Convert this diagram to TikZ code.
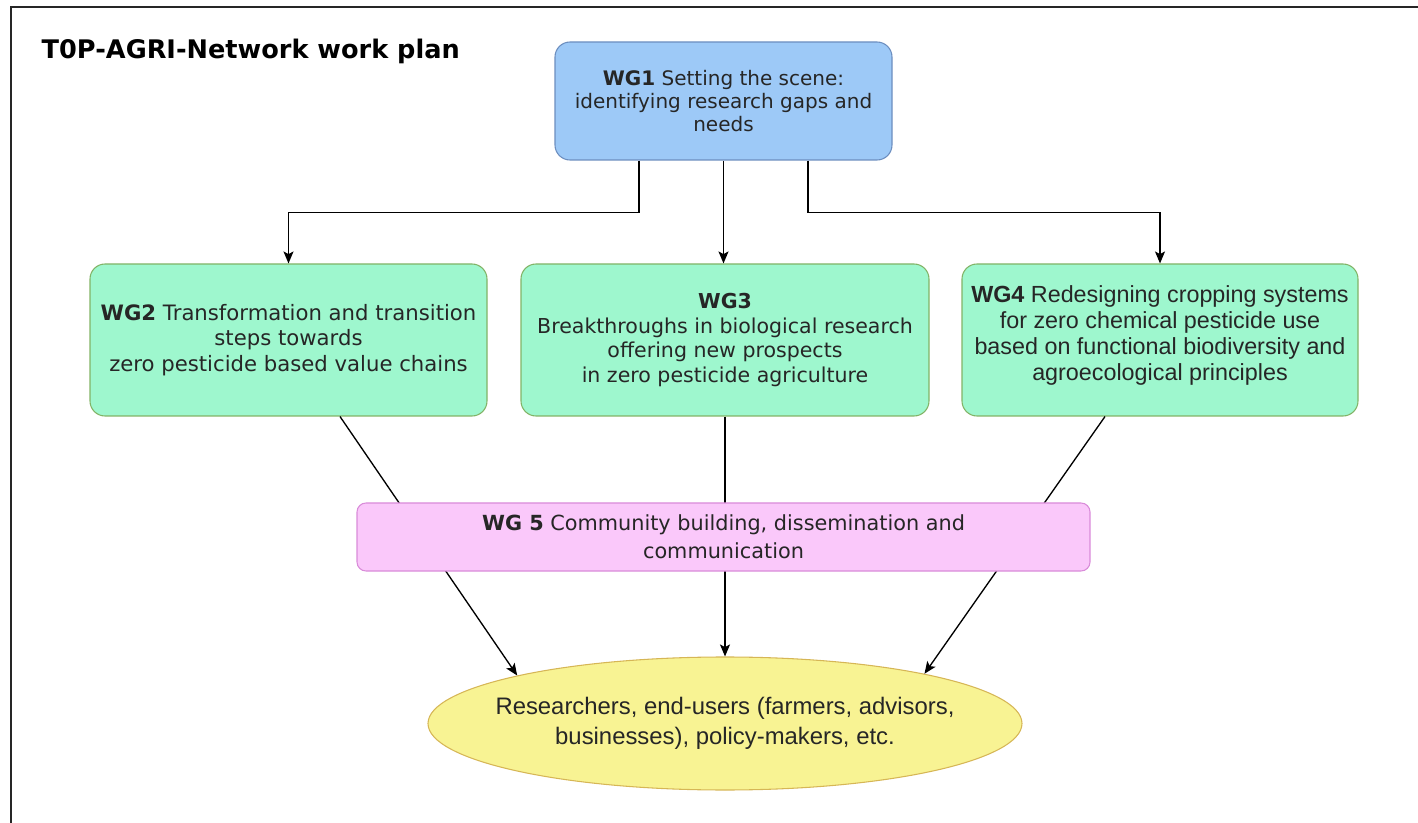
\documentclass[tikz,border=0pt]{standalone}
\usepackage{fontspec}
\setmainfont{DejaVu Sans}
\newfontfamily\arialfont{Liberation Sans}
\usetikzlibrary{arrows.meta,shapes.geometric}
\newdimen\pxu \pxu=0.75pt
\definecolor{wgblue}{HTML}{9DC9F7}
\definecolor{wgblueline}{HTML}{6C8EBF}
\definecolor{wggreen}{HTML}{9EF7CE}
\definecolor{wggreenline}{HTML}{82B366}
\definecolor{wgpink}{HTML}{FAC8FA}
\definecolor{wgpinkline}{HTML}{D98CD9}
\definecolor{wgyellow}{HTML}{F8F393}
\definecolor{wgyellowline}{HTML}{D6B656}
\tikzset{
  wgbox/.style={draw, rounded corners=15\pxu, align=center, text=black!85,
    line width=0.8pt, inner sep=0pt},
  bluebox/.style={wgbox, fill=wgblue, draw=wgblueline},
  greenbox/.style={wgbox, fill=wggreen, draw=wggreenline, minimum height=152\pxu},
  pinkbox/.style={wgbox, fill=wgpink, draw=wgpinkline, rounded corners=9\pxu},
  conn/.style={line width=1pt, -{Stealth[length=9pt,width=7.5pt,inset=2pt]}}
}

\begin{document}
\begin{tikzpicture}[x=0.75pt, y=-0.75pt]
  \useasboundingbox (0,0) rectangle (1418,823);
  % frame
  \draw[line width=1.9pt, black!85] (11,830) -- (11,7) -- (1425,7);
  \node[anchor=west, font=\bfseries\fontsize{19.2}{22}\selectfont] (title) at (37,51)
    {T0P-AGRI-Network work plan};

  \node[bluebox, minimum width=337\pxu, minimum height=118\pxu,
    font=\fontsize{15}{17.25}\selectfont] (wg1) at (723.5,101)
    {\textbf{WG1} Setting the scene:\\identifying research gaps and\\needs};

  \node[greenbox, minimum width=397\pxu, font=\fontsize{15.9}{19.3}\selectfont] (wg2) at (288.5,340)
    {\textbf{WG2} Transformation and transition\\steps towards\\zero pesticide based value chains};
  \node[greenbox, minimum width=408\pxu, font=\fontsize{15.4}{18.5}\selectfont] (wg3) at (725,340)
    {\textbf{WG3}\\Breakthroughs in biological research\\offering new prospects\\in zero pesticide agriculture};
  \node[greenbox, minimum width=396\pxu, font=\arialfont\fontsize{17.5}{19.5}\selectfont] (wg4) at (1160,340)
    {\textbf{WG4} Redesigning cropping systems\\for zero chemical pesticide use\\based on functional biodiversity and\\agroecological principles\\[-9pt]};

  \node[ellipse, draw=wgyellowline, fill=wgyellow, line width=0.8pt, inner sep=0pt,
    inner xsep=-60\pxu, minimum width=594\pxu, minimum height=133\pxu, align=center,
    text=black!85, font=\arialfont\fontsize{17.9}{22.5}\selectfont] (users) at (725,723.5)
    {Researchers, end-users (farmers, advisors,\\businesses), policy-makers, etc.};

  % work plan links
  \draw[conn] ([xshift=-84.5\pxu]wg1.south) -- ++(0,52) -| (wg2.north);
  \draw[conn] (wg1.south) -- (wg1.south |- wg3.north);
  \draw[conn] ([xshift=84.5\pxu]wg1.south) -- ++(0,52) -| (wg4.north);
  \draw[conn] ([xshift=51.5\pxu]wg2.south) -- (users.167);
  \draw[conn] (wg3.south) -- (users.north);
  \draw[conn] ([xshift=-55\pxu]wg4.south) -- (users.14);

  \node[pinkbox, minimum width=733\pxu, minimum height=68\pxu,
    font=\fontsize{15.6}{21}\selectfont] (wg5) at (723.5,537)
    {\textbf{WG 5} Community building, dissemination and\\communication};
\end{tikzpicture}
\end{document}
